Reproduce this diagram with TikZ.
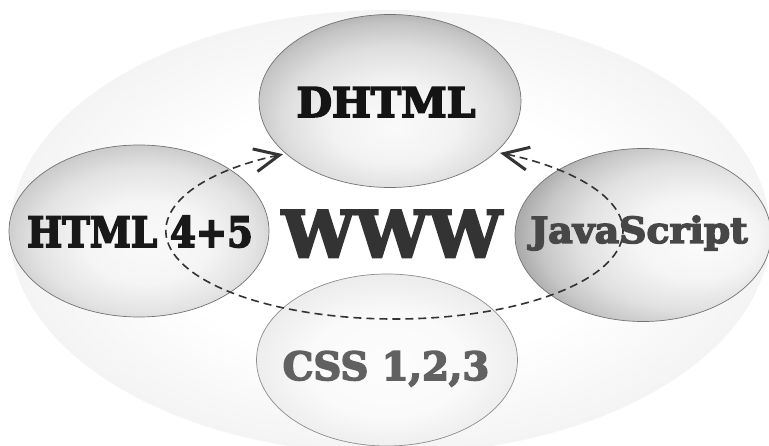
\documentclass[tikz,border=0pt]{standalone}
\usepackage{fontspec}
\usepackage{graphicx}
\usetikzlibrary{shapes.geometric,arrows.meta}
\newfontfamily\hf{DejaVu Serif}[UprightFont=* Bold, FakeBold=4]
\pgfdeclareradialshading{bgsh}{\pgfpoint{0bp}{0bp}}{color(0bp)=(white); color(15bp)=(white); color(31bp)=(black!7); color(60bp)=(black!7)}
\pgfdeclareradialshading{dhsh}{\pgfpoint{1bp}{-8bp}}{color(0bp)=(black!2); color(12bp)=(black!5); color(21bp)=(black!13); color(27bp)=(black!23); color(31bp)=(black!34); color(60bp)=(black!34)}
\pgfdeclareradialshading{htsh}{\pgfpoint{2bp}{-4bp}}{color(0bp)=(black!2); color(12bp)=(black!4); color(21bp)=(black!11); color(27bp)=(black!20); color(31bp)=(black!30); color(60bp)=(black!30)}
\pgfdeclareradialshading{jssh}{\pgfpoint{13bp}{-1bp}}{color(0bp)=(black!1); color(12bp)=(black!4); color(21bp)=(black!12); color(27bp)=(black!22); color(31bp)=(black!33); color(60bp)=(black!33)}
\pgfdeclareradialshading{cssh}{\pgfpoint{0bp}{-2bp}}{color(0bp)=(black!1); color(15bp)=(black!2); color(31bp)=(black!10); color(60bp)=(black!10)}
\tikzset{
  bubble/.style={ellipse, draw=black!55, line width=0.7pt, inner sep=0pt},
  lab/.style={inner sep=0pt, anchor=base},
  fs/.style={font=\hf\fontsize{#1}{#1}\selectfont},
  cyc/.style={draw=black!80, line width=1.6pt, dash pattern=on 8pt off 5pt,
    arrows={Straight Barb[length=25pt,width=23pt,line width'=3pt]-Straight Barb[length=25pt,width=23pt,line width'=3pt]}},
}
\begin{document}
\begin{tikzpicture}[x=1pt,y=-1pt]
\useasboundingbox (0,0) rectangle (769,446);
\fill[white] (0,0) rectangle (769,446);
\node[ellipse, inner sep=0pt, minimum width=760pt, minimum height=444pt, shading=bgsh] (bg) at (390,232) {};
\node[bubble, minimum width=262pt, minimum height=173pt, shading=dhsh] (dhtml) at (390,101) {};
\node[bubble, minimum width=260pt, minimum height=172pt, shading=htsh] (html) at (139,231) {};
\node[bubble, minimum width=256pt, minimum height=173pt, shading=jssh] (js) at (643,235) {};
\node[bubble, draw=black!45, minimum width=261pt, minimum height=172pt, shading=cssh] (css) at (387,360) {};
\coordinate (lt) at ({394.5+228.5*cos(240.8)},{231+88*sin(240.8)});
\draw[cyc] (lt) arc[start angle=240.8, end angle=-62.5, x radius=228.5, y radius=88];
\node[lab, fs=41, text=black!92] (tdhtml) at (386,117) {DHTML};
\node[lab, fs=42, text=black!90] (thtml) at (140,247) {\scalebox{0.885}[1]{HTML 4+5}};
\node[lab, fs=64, text=black!80] (twww) at (392,257) {\scalebox{1.02}[1]{WWW}};
\node[lab, fs=36, text=black!72] (tjs) at (639,243) {\scalebox{1.05}[1]{JavaScript}};
\node[lab, fs=39, text=black!62] (tcss) at (386,380) {\scalebox{0.99}[1]{CSS 1,2,3}};
\end{tikzpicture}
\end{document}
